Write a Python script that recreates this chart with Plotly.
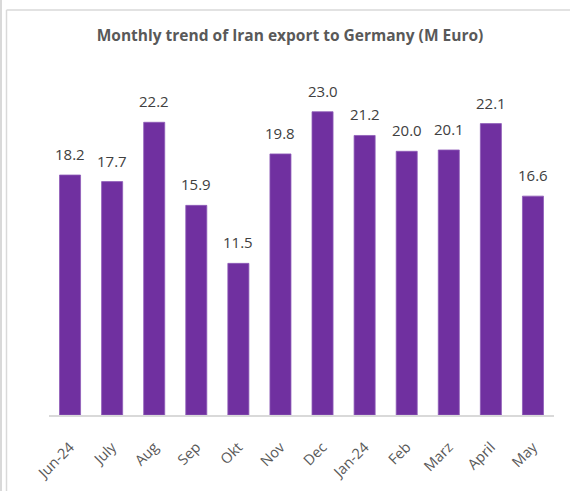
import plotly.graph_objects as go

months = ["Jun-24", "July", "Aug", "Sep", "Okt", "Nov", "Dec", "Jan-24", "Feb", "Marz", "April", "May"]
exports = [18.2, 17.7, 22.2, 15.9, 11.5, 19.8, 23.0, 21.2, 20.0, 20.1, 22.1, 16.6]

W, H = 570, 491
L, R, T, B = 49, 16, 59, 76
pw, ph = W - L - R, H - T - B

def px(x):
    return (x - L) / pw

def py(y):
    return (H - B - y) / ph

fig = go.Figure()
fig.add_trace(go.Bar(
    x=months, y=exports,
    marker=dict(color="#7030A0", line=dict(color="#8E5CB8", width=0.8)),
    width=0.5,
))

for m, v in zip(months, exports):
    fig.add_annotation(
        x=m, y=v, text=f"{v:.1f}", showarrow=False,
        yanchor="bottom", yshift=9,
        font=dict(family="Open Sans, sans-serif", size=15, color="#404040"),
    )

fig.update_layout(
    width=W, height=H,
    margin=dict(l=L, r=R, t=T, b=B, autoexpand=False),
    paper_bgcolor="white", plot_bgcolor="white",
    showlegend=False,
    title=dict(
        text="<b>Monthly trend of Iran export to Germany (M Euro)</b>",
        x=290 / W, xanchor="center", y=1 - 36 / H, yanchor="middle",
        font=dict(family="Open Sans, sans-serif", size=15.5, color="#595959"),
    ),
    xaxis=dict(
        tickangle=-45,
        tickfont=dict(family="Open Sans, sans-serif", size=14.5, color="#595959"),
        showline=True, linecolor="#D9D9D9", linewidth=2,
        ticks="", showgrid=False, ticklabelstandoff=16, automargin=False,
    ),
    yaxis=dict(range=[0, 27], visible=False, showgrid=False, automargin=False),
    shapes=[
        dict(type="line", xref="paper", yref="paper",
             x0=px(6.5), x1=px(570), y0=py(10), y1=py(10),
             line=dict(color="#D9D9D9", width=1.5)),
        dict(type="line", xref="paper", yref="paper",
             x0=px(6.5), x1=px(6.5), y0=py(10), y1=py(491),
             line=dict(color="#D9D9D9", width=1.5)),
        dict(type="rect", xref="paper", yref="paper",
             x0=px(0), x1=px(2), y0=py(0), y1=py(491),
             fillcolor="#D9D9D9", line=dict(width=0)),
    ],
)

fig.write_html("out.html", config={"displayModeBar": False},
               post_script="document.body.style.margin='0';")
